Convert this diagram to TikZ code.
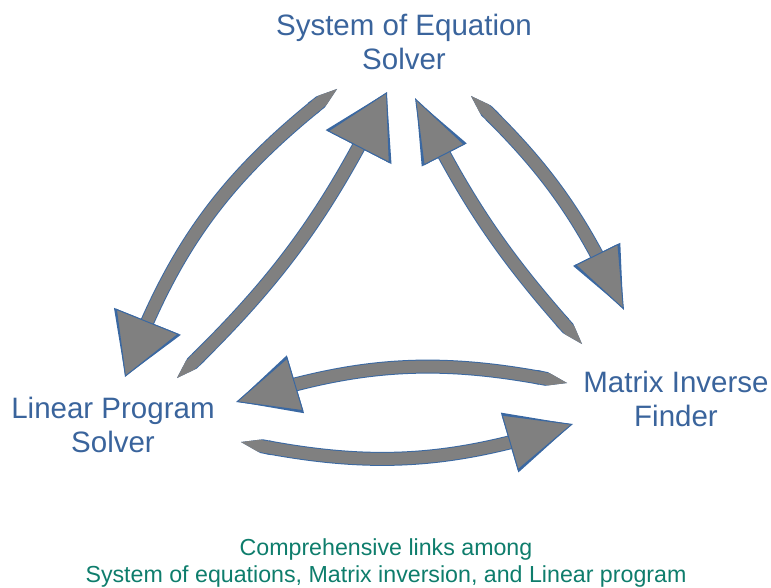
\documentclass[tikz,border=0pt]{standalone}
\usepackage{fontspec}
\setmainfont{Liberation Sans}
\usetikzlibrary{arrows.meta,bending}

\definecolor{textblue}{RGB}{58,100,156}
\definecolor{notegreen}{RGB}{14,125,108}
\definecolor{arrowgray}{RGB}{128,128,128}
\definecolor{rimblue}{RGB}{58,104,162}

\tikzset{
  unit/.style={text=textblue, align=center, inner sep=0pt,
    font=\fontsize{29.5}{34}\selectfont},
  note/.style={text=notegreen, align=center, inner sep=0pt,
    font=\fontsize{23.2}{27}\selectfont},
  % fat gray arrow with a pointed tail and a thin blue rim
  link/.style 2 args={draw=arrowgray, line width=12pt,
    {Triangle Cap[length=0pt 1.5]}-{Triangle[length=#1pt, width=#2pt, fill=arrowgray, color=rimblue, line width=1pt]},
    preaction={draw=rimblue, line width=14pt,
      {Triangle Cap[length=0pt 1.5]}-{Triangle[length=#1pt, width=#2pt]}}}
}

\begin{document}
\begin{tikzpicture}[x=1pt, y=1pt]
	\useasboundingbox (0,0) rectangle (771,-588);

	\node[unit] (ses) at (404,-41.5) {System of Equation\\Solver};
	\node[unit] (lps) at (113,-424.5) {Linear Program\\Solver};
	\node[unit] (mif) at (676,-398.5) {Matrix Inverse\\Finder};

	% ends of the six links
	\coordinate (sl-t) at (337,-89);
	\coordinate (sl-h) at (125,-377);
	\coordinate (ls-t) at (177,-378);
	\coordinate (ls-h) at (387,-92);
	\coordinate (sm-t) at (471,-96);
	\coordinate (sm-h) at (624,-310);
	\coordinate (ms-t) at (582,-344);
	\coordinate (ms-h) at (415,-98);
	\coordinate (ml-t) at (567,-383);
	\coordinate (ml-h) at (236,-402);
	\coordinate (lm-t) at (241,-442);
	\coordinate (lm-h) at (573,-424);

	\draw[link={60}{68}] (sl-t) to[bend right=16] (sl-h);
	\draw[link={62}{70}] (ls-t) to[bend right=10] (ls-h);
	\draw[link={62}{48}] (sm-t) to[bend left=11] (sm-h);
	\draw[link={64}{46}] (ms-t) to[bend left=8] (ms-h);
	\draw[link={62}{56}] (ml-t) to[bend right=15] (ml-h);
	\draw[link={66}{58}] (lm-t) to[bend right=15] (lm-h);

	\node[note] (caption) at (386,-562.8) {Comprehensive links among\\System of equations, Matrix inversion, and Linear program};
\end{tikzpicture}
\end{document}
